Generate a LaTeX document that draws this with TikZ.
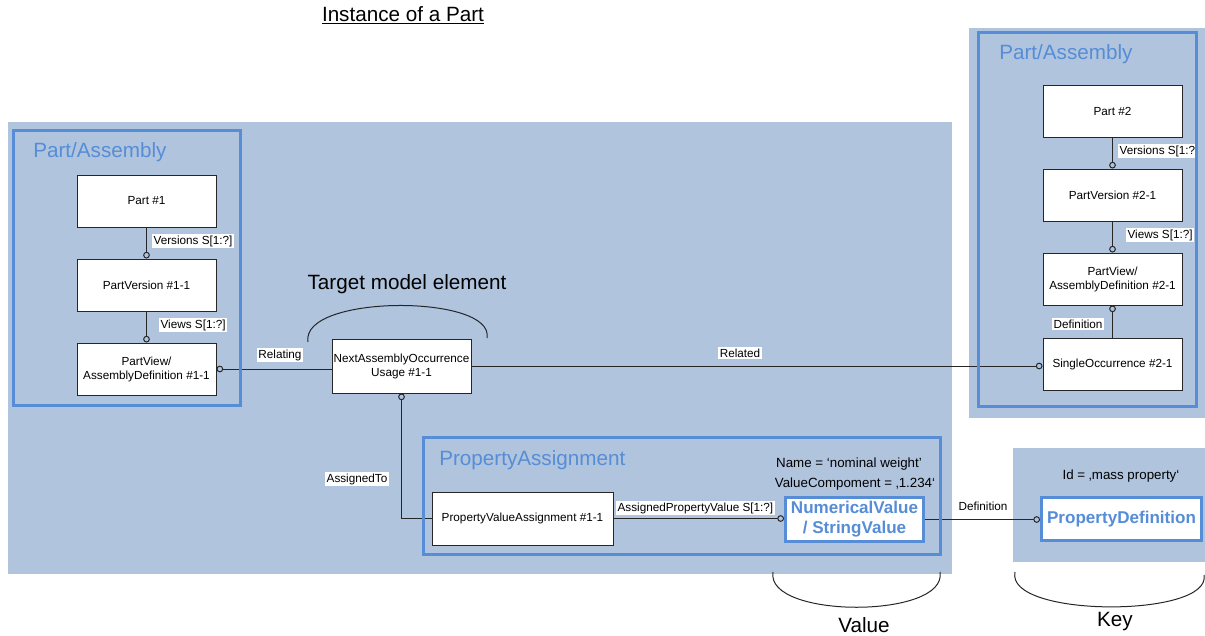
\documentclass[tikz,border=0pt]{standalone}
\usepackage{fontspec}
\setmainfont{Liberation Sans}
\usetikzlibrary{arrows.meta,positioning}
\definecolor{bgblue}{RGB}{176,196,222}
\definecolor{frameblue}{RGB}{86,141,214}
\tikzset{
  area/.style={fill=bgblue, draw=none},
  frame/.style={draw=frameblue, line width=2.25pt},
  framelabel/.style={anchor=west, text=frameblue, font=\fontsize{15.5}{18}\selectfont, inner sep=0pt},
  entity/.style={draw=black!85, fill=white, line width=0.75pt, align=center,
    font=\fontsize{8.8}{10.5}\selectfont, minimum width=104.25pt, minimum height=39pt, inner sep=1pt},
  valuebox/.style={draw=frameblue, fill=white, line width=2.25pt, align=center, text=frameblue,
    font=\fontsize{12.8}{15}\selectfont\bfseries, inner sep=0pt},
  link/.style={line width=0.75pt, black!85},
  fromring/.style={{Circle[open,length=5pt,width=5pt]}-},
  toring/.style={-{Circle[open,length=5pt,width=5pt]}},
  tag/.style={fill=white, inner sep=1pt, font=\fontsize{8.8}{10.5}\selectfont},
  caption/.style={font=\fontsize{15.5}{18}\selectfont, inner sep=0pt},
  note/.style={font=\fontsize{10}{12}\selectfont, inner sep=0pt}
}

\begin{document}
\begin{tikzpicture}[x=0.75pt,y=-0.75pt]
  \useasboundingbox (0,0) rectangle (1205,635);

  % shaded areas
  \fill[area] (8,122) rectangle (952,574);
  \fill[area] (969,28) rectangle (1205,418);
  \fill[area] (1013,448) rectangle (1205,562);

  \node[caption] (title) at (403,15) {\underline{Instance of a Part}};

  % left part / assembly
  \node[framelabel] (lefthead) at (33,152) {Part/Assembly};
  \node[entity] (PT1) at (146.5,201) {Part \#1};
  \node[entity] (PV1) at (146.5,285) {PartVersion \#1-1};
  \node[entity] (PD1) at (146.5,369) {PartView/\\AssemblyDefinition \#1-1};

  \draw[link,toring] (PT1) -- (PV1);
  \draw[link,toring] (PV1) -- (PD1);
  \node[tag,anchor=west] (ver1) at (152,241) {Versions S[1:?]};
  \node[tag,anchor=west] (view1) at (159,325) {Views S[1:?]};

  % target element
  \node[entity,minimum height=40.5pt] (NAOU) at (401.5,366) {NextAssemblyOccurrence\\Usage \#1-1};
  \node[caption] (target) at (407,284) {Target model element};
  \draw[link] (308,342) .. controls (300,294) and (495,294) .. (487,338);

  % right part / assembly
  \node[framelabel] (righthead) at (999,54) {Part/Assembly};
  \node[entity] (PT2) at (1112.5,111) {Part \#2};
  \node[entity] (PV2) at (1112.5,195) {PartVersion \#2-1};
  \node[entity] (PD2) at (1112.5,279) {PartView/\\AssemblyDefinition \#2-1};
  \node[entity] (SO2) at (1112.5,364.5) {SingleOccurrence \#2-1};

  \draw[link,toring] (PT2) -- (PV2);
  \draw[link,toring] (PV2) -- (PD2);
  \draw[link,fromring] (PD2) -- (SO2);
  \node[tag,anchor=west] (ver2) at (1118,151) {Versions S[1:?};
  \node[tag,anchor=west] (view2) at (1126,235) {Views S[1:?]};
  \node[tag,anchor=west] (def2) at (1052,324) {Definition};

  % relating / related
  \draw[link,fromring] (PD1.east) -- (PD1.east -| NAOU.west);
  \node[tag] (relating) at (280,355) {Relating};
  \draw[link,toring] (NAOU.east) -- (NAOU.east -| SO2.west);
  \node[tag] (related) at (740,353) {Related};

  % property assignment
  \node[framelabel] (pahead) at (439,460) {PropertyAssignment};
  \node[entity,minimum width=135.75pt,minimum height=39.75pt] (PVA) at (522.5,518.5) {PropertyValueAssignment \#1-1};
  \node[valuebox,minimum width=103.5pt,minimum height=33pt] (NV) at (854.5,519.5) {NumericalValue\\/ StringValue};
  \node[note] (name) at (849,464) {Name = ‘nominal weight’};
  \node[note] (valcomp) at (855,484) {ValueCompoment = ‚1.234‘};

  \draw[link,fromring] (NAOU.south) |- (PVA.west);
  \node[tag] (assto) at (357,479) {AssignedTo};
  \draw[link,toring] (PVA.east) -- (PVA.east -| NV.west);
  \node[tag,anchor=west] (apv) at (616,508) {AssignedPropertyValue S[1:?]};

  % key
  \node[valuebox,minimum width=120pt,minimum height=32pt] (PDEF) at (1121.5,519) {PropertyDefinition};
  \node[note] (idnote) at (1121,476) {Id = ‚mass property‘};
  \draw[link,toring] (NV.east) -- (NV.east -| PDEF.west);
  \node[tag] (defn) at (983,506) {Definition};

  % frames on top
  \draw[frame] (13.5,130.5) rectangle (240,405);
  \draw[frame] (978.5,32.5) rectangle (1196.5,406);
  \draw[frame] (423,437.5) rectangle (940,554);

  % braces below
  \draw[link] (773,572) .. controls (765,619) and (948,619) .. (940,572);
  \node[caption] (value) at (864,625) {Value};
  \draw[link] (1015,572) .. controls (1005,618) and (1212,618) .. (1204,575);
  \node[caption] (key) at (1115,622) {Key};
\end{tikzpicture}
\end{document}
